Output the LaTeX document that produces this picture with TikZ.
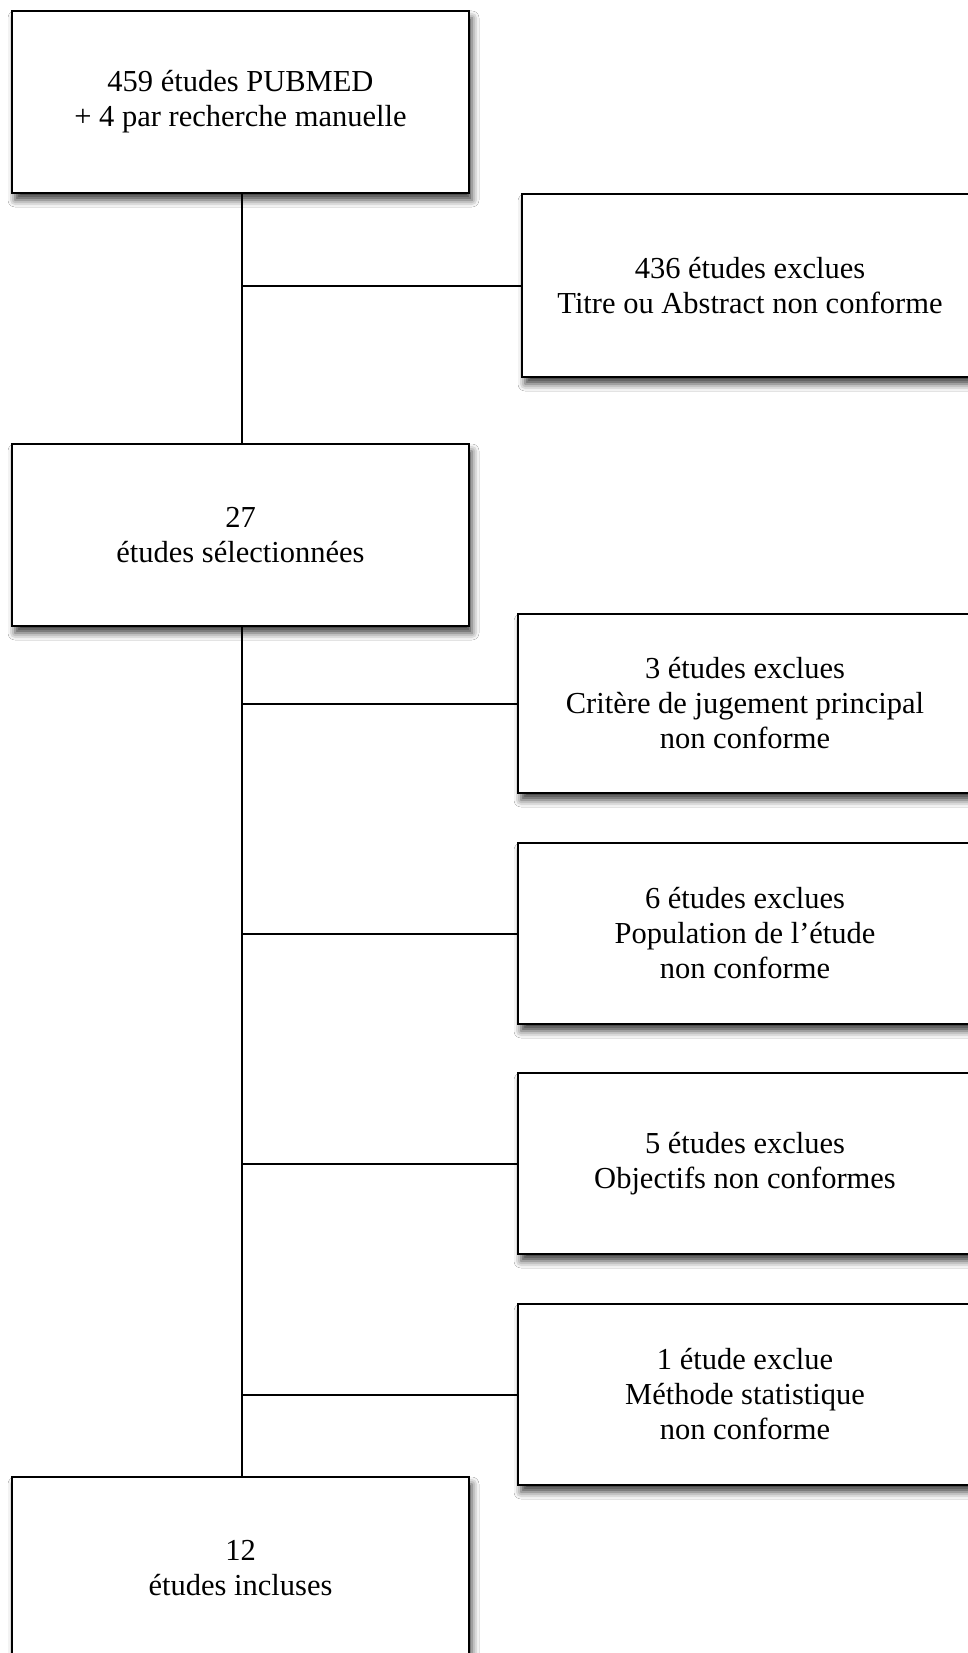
\documentclass[tikz,border=0pt]{standalone}
\usepackage{fontspec}
\setmainfont{Liberation Serif}
\usetikzlibrary{shadows.blur}
\begin{document}
\begin{tikzpicture}[x=1pt,y=-1pt,
  box/.style={draw=black, fill=white, line width=2.6pt, rectangle, align=center, inner sep=0pt,
    blur shadow={shadow xshift=3pt, shadow yshift=-7pt, shadow blur radius=7pt, shadow opacity=75},
    font=\fontsize{30.5}{35}\selectfont},
  link/.style={draw=black, line width=2pt}]
\useasboundingbox (0,0) rectangle (968,1653);
\clip (0,0) rectangle (968,1653);
\fill[white] (0,0) rectangle (968,1653);
% main column
\node[box, minimum width=457pt, minimum height=182pt] (b1) at (240.5,102) {459 études PUBMED\\+ 4 par recherche manuelle};
\node[box, minimum width=457pt, minimum height=182pt] (b3) at (240.5,535) {27\\études sélectionnées};
\node[box, minimum width=457pt, minimum height=182pt] (bf) at (240.5,1568) {12\\études incluses};
% exclusion boxes
\node[box, minimum width=456pt, minimum height=183pt] (e1) at (750,285.5) {436 études exclues\\Titre ou Abstract non conforme};
\node[box, minimum width=454pt, minimum height=179pt] (e2) at (745,703.5) {3 études exclues\\Critère de jugement principal\\non conforme};
\node[box, minimum width=454pt, minimum height=181pt] (e3) at (745,933.5) {6 études exclues\\Population de l’étude\\non conforme};
\node[box, minimum width=454pt, minimum height=181pt] (e4) at (745,1163.5) {5 études exclues\\Objectifs non conformes};
\node[box, minimum width=454pt, minimum height=181pt] (e5) at (745,1394.5) {1 étude exclue\\Méthode statistique\\non conforme};
% trunk
\draw[link] ([xshift=1.5pt]b1.south) -- ([xshift=1.5pt]b3.north);
\draw[link] ([xshift=1.5pt]b3.south) -- ([xshift=1.5pt]bf.north);
% branches
\foreach \e in {e1,e2,e3,e4,e5}{
  \draw[link] ([xshift=1.5pt]b1.south |- \e.west) -- (\e.west);
}
\end{tikzpicture}
\end{document}
